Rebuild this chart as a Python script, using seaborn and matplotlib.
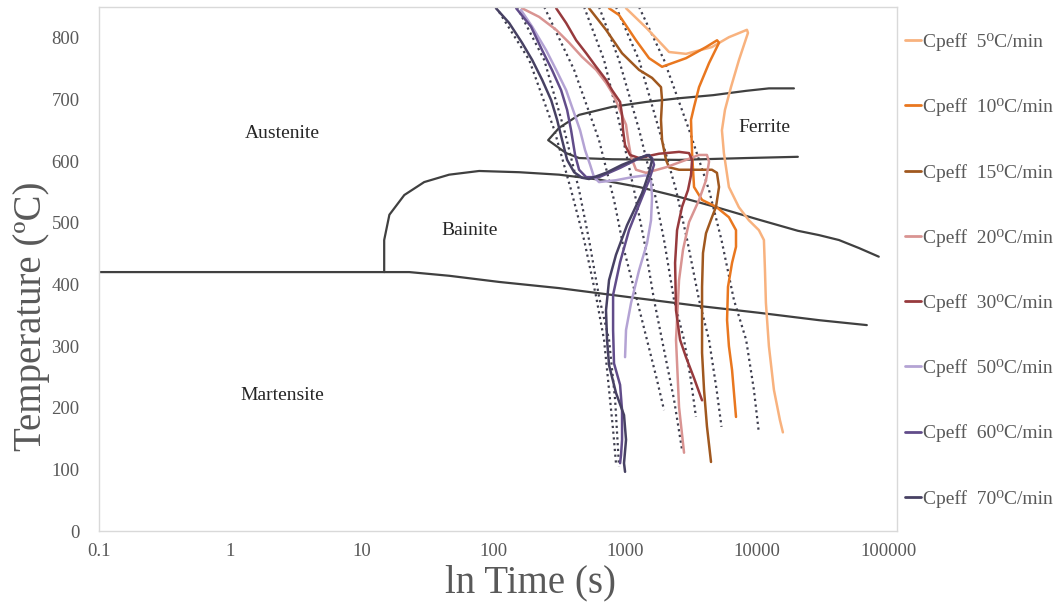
import matplotlib
matplotlib.use("Agg")
import numpy as np
import pandas as pd
import matplotlib.pyplot as plt
from matplotlib.lines import Line2D
import seaborn as sns

# ---- phase boundaries (time in s, temperature in degC) ----
ms_t = [0.1, 22.8, 45.9, 110, 314, 1012, 3631, 10350, 29600, 68400]
ms_T = [420, 420, 414, 404, 394, 380, 365, 354, 342, 334]

bainite_t = [14.7, 14.7, 16.1, 20.9, 29.6, 45.8, 77.4, 156, 314, 631, 1271, 2559,
             5152, 10350, 20460, 29600, 42000, 59600, 84300]
bainite_T = [420, 472, 513, 545, 566, 578, 584, 582, 578, 570, 558, 542,
             524, 505, 487, 480, 472, 459, 445]

ferrite_t = [19100, 12330, 8280, 4650, 2559, 1436, 793, 445, 314, 259,
             355, 445, 793, 2559, 8280, 20460]
ferrite_T = [718, 718, 714, 707, 702, 696, 688, 675, 654, 634,
             613, 605, 603, 602, 605, 607]

# ---- measured cooling curves ----
rates = ["5", "10", "15", "20", "30", "50", "60", "70"]
colors = ["#F8B27E", "#E9771F", "#A0581F", "#D99492", "#973A3D",
          "#B4A3D4", "#614C8A", "#474163"]

t_5 = [1012, 1462, 2148, 2891, 4550, 6124, 8395, 8550, 7300, 6350, 5715, 5420,
       5610, 6124, 7300, 8690, 10350, 11300, 11510, 11700, 12330, 13460, 14950, 15750]
T_5 = [848, 815, 777, 774, 785, 801, 813, 808, 764, 720, 683, 650,
       613, 558, 525, 504, 488, 472, 423, 370, 300, 229, 180, 160]

t_10 = [752, 895, 1205, 1514, 1901, 2891, 4102, 4977, 5152, 4325, 3631, 3327, 3155,
        3214, 3327, 3828, 4887, 6124, 6934, 6934, 6471, 6026, 5929, 6124, 6471, 6934]
T_10 = [848, 837, 796, 767, 753, 767, 785, 796, 792, 759, 720, 688, 667,
        613, 558, 537, 526, 509, 488, 461, 435, 396, 342, 300, 261, 185]

t_15 = [530, 713, 944, 1271, 1596, 1866, 1901, 1866, 1901, 2037, 2148, 2559, 3443,
        4550, 4966, 5152, 4887, 4477, 4102, 3891, 3828, 3828, 3828, 3963, 4169, 4477]
T_15 = [848, 813, 775, 748, 735, 720, 699, 667, 634, 602, 590, 586, 586,
        586, 581, 558, 526, 505, 483, 451, 396, 342, 289, 229, 170, 112]

t_20 = [164, 221, 298, 374, 469, 600, 713, 793, 865, 927, 1012, 1050, 1105, 1205,
        1436, 2037, 2891, 3631, 4169, 4325, 4102, 3631, 3048, 2742, 2559, 2427, 2559, 2793]
T_20 = [848, 834, 813, 792, 769, 748, 727, 711, 694, 678, 659, 634, 607, 586,
        581, 590, 602, 610, 610, 599, 569, 537, 501, 456, 407, 310, 201, 127]

t_30 = [298, 355, 423, 504, 600, 713, 793, 912, 944, 961, 995, 1086, 1271, 1803,
        2559, 3048, 3214, 3155, 2992, 2698, 2472, 2388, 2427, 2606, 2891, 3327, 3828]
T_30 = [848, 824, 796, 775, 753, 732, 715, 696, 675, 650, 626, 610, 605, 612,
        615, 613, 602, 577, 553, 526, 488, 435, 358, 310, 282, 248, 212]

t_50 = [161, 196, 250, 298, 355, 408, 453, 494, 540, 578, 631, 849, 1125, 1436,
        1567, 1596, 1567, 1462, 1271, 1105, 1012, 995]
T_50 = [845, 818, 780, 748, 715, 678, 650, 618, 594, 574, 566, 569, 574, 577,
        566, 542, 504, 467, 423, 370, 326, 282]

t_60 = [148, 192, 233, 277, 325, 361, 387, 415, 445, 504, 631, 912, 1205, 1462,
        1596, 1652, 1514, 1271, 1067, 912, 807, 807, 820, 912, 944, 944, 927, 912]
T_60 = [848, 818, 780, 748, 715, 683, 650, 610, 586, 574, 574, 589, 602, 610,
        605, 594, 569, 529, 488, 436, 383, 326, 272, 237, 196, 148, 123, 110]

t_70 = [104, 131, 164, 196, 233, 273, 303, 331, 361, 408, 469, 530, 713, 944, 1271,
        1514, 1596, 1514, 1340, 1030, 849, 752, 713, 726, 752, 849, 977, 1012, 977, 995]
T_70 = [848, 824, 792, 764, 732, 699, 667, 634, 602, 582, 573, 571, 581, 594, 605,
        610, 602, 581, 548, 496, 448, 407, 358, 310, 269, 224, 188, 148, 110, 96]

curve_t = [t_5, t_10, t_15, t_20, t_30, t_50, t_60, t_70]
curve_T = [T_5, T_10, T_15, T_20, T_30, T_50, T_60, T_70]

# ---- calculated cooling paths (dotted) ----
dot_t = [
    [104, 186, 288, 387, 486, 600, 689, 752, 807, 849],
    [150, 242, 343, 445, 530, 631, 752, 836, 895],
    [242, 408, 631, 820, 977, 1225, 1460, 1740, 1968],
    [486, 689, 927, 1164, 1387, 1652, 1900, 2344, 2700],
    [631, 895, 1271, 1652, 1968, 2344, 2793, 3150, 3440],
    [849, 1271, 1803, 2430, 2950, 3631, 4325, 4940, 5380],
    [1271, 1968, 3048, 4325, 5380, 6683, 8280, 9484, 10350],
]
dot_T = [
    [850, 764, 651, 553, 472, 380, 310, 229, 164, 110],
    [850, 764, 651, 553, 472, 380, 310, 213, 105],
    [850, 748, 634, 537, 456, 375, 310, 245, 196],
    [850, 764, 651, 553, 472, 375, 310, 213, 131],
    [850, 764, 651, 553, 472, 375, 310, 245, 185],
    [850, 764, 651, 553, 472, 375, 310, 229, 169],
    [850, 764, 651, 553, 472, 375, 310, 229, 159],
]

x_ticks = [0.1, 1, 10, 100, 1000, 10000, 100000]
x_tick_labels = ["0.1", "1", "10", "100", "1000", "10000", "100000"]
y_ticks = [0, 100, 200, 300, 400, 500, 600, 700, 800]

regions = [("Austenite", 2.47, 644), ("Bainite", 65, 488),
           ("Martensite", 2.47, 219), ("Ferrite", 11300, 655)]

# ---- figure ----
sns.set_theme(style="white")
plt.rcParams["font.family"] = ["Liberation Serif", "DejaVu Serif"]
text_grey = "#595959"
line_grey = "#404040"

fig = plt.figure(figsize=(10.58, 6.06), dpi=100)
W, H = 1058, 606
ax = fig.add_axes([99 / W, 1 - 531 / H, (897 - 99) / W, (531 - 7) / H])

dots = pd.DataFrame({
    "t": np.concatenate(dot_t),
    "T": np.concatenate(dot_T),
    "path": np.concatenate([[i] * len(a) for i, a in enumerate(dot_t)]),
})
sns.lineplot(data=dots, x="t", y="T", units="path", estimator=None, sort=False,
             color="#3E3E4E", lw=1.6, linestyle=(0, (1, 1.6)), ax=ax, legend=False)

for bt, bT in [(ms_t, ms_T), (bainite_t, bainite_T), (ferrite_t, ferrite_T)]:
    sns.lineplot(x=bt, y=bT, sort=False, estimator=None, color=line_grey,
                 lw=1.6, ax=ax, legend=False)

curves = pd.DataFrame({
    "t": np.concatenate(curve_t),
    "T": np.concatenate(curve_T),
    "rate": np.concatenate([[r] * len(a) for r, a in zip(rates, curve_t)]),
})
sns.lineplot(data=curves, x="t", y="T", hue="rate", hue_order=rates,
             palette=colors, estimator=None, sort=False, lw=1.8, ax=ax, legend=False)

for name, x, y in regions:
    ax.text(x, y, name, ha="center", va="center", fontsize=14, color="#262626")

ax.set_xscale("log")
ax.set_xlim(0.1, 116000)
ax.set_ylim(0, 850)
ax.set_xticks(x_ticks)
ax.set_xticklabels(x_tick_labels)
ax.xaxis.set_minor_locator(matplotlib.ticker.NullLocator())
ax.set_yticks(y_ticks)
ax.tick_params(axis="both", length=0, labelsize=13.5, colors=text_grey)
ax.tick_params(axis="y", pad=14)
ax.tick_params(axis="x", pad=9)
for s in ax.spines.values():
    s.set_color("#D9D9D9")
    s.set_linewidth(1.0)

ax.set_xlabel("ln Time (s)", fontsize=28, color=text_grey)
ax.set_ylabel("Temperature (ºC)", fontsize=28, color=text_grey)
ax.xaxis.set_label_coords(0.541, -0.064)
ax.yaxis.set_label_coords(-0.061, 0.41)

handles = [Line2D([0], [0], color=c, lw=2) for c in colors]
labels = [f"Cpeff  {r}⁰C/min" for r in rates]
fig.legend(handles, labels, loc="upper left", bbox_to_anchor=(905 / W, 1 - 33 / H),
           frameon=False, fontsize=14, handlelength=0.8, handletextpad=0.12,
           labelspacing=2.43, borderpad=0, borderaxespad=0, labelcolor=text_grey)

fig.savefig("out.png", dpi=100, facecolor="white")
